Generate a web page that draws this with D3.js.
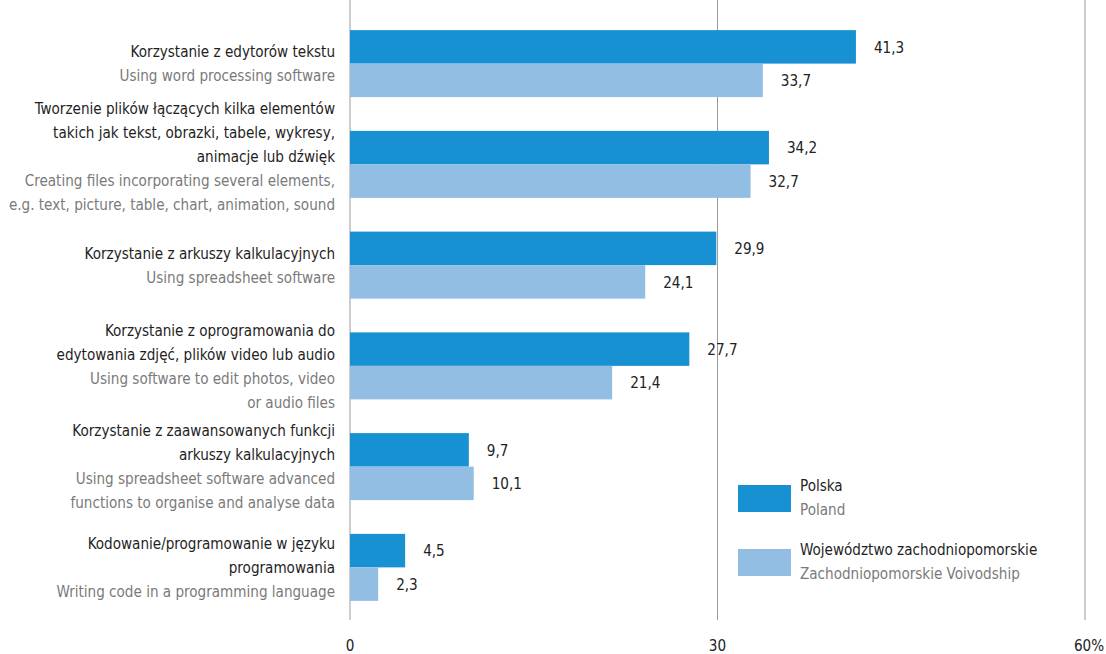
<!DOCTYPE html>
<html>
<head>
<meta charset="utf-8">
<script src="https://cdn.jsdelivr.net/npm/d3@7"></script>
<style>
  body { margin: 0; background: #fff; }
  svg text { font-family: "Liberation Sans Narrow", "DejaVu Sans Condensed", "Roboto", sans-serif; }
</style>
</head>
<body>
<script>
// values in %
var polska = [41.3, 34.2, 29.9, 27.7, 9.7, 4.5];
var zachodniopomorskie = [33.7, 32.7, 24.1, 21.4, 10.1, 2.3];

var labelsPl = [
  ["Korzystanie z edytorów tekstu"],
  ["Tworzenie plików łączących kilka elementów", "takich jak tekst, obrazki, tabele, wykresy,", "animacje lub dźwięk"],
  ["Korzystanie z arkuszy  kalkulacyjnych"],
  ["Korzystanie z oprogramowania do", "edytowania  zdjęć, plików video lub audio"],
  ["Korzystanie z zaawansowanych funkcji", "arkuszy kalkulacyjnych"],
  ["Kodowanie/programowanie w języku", "programowania"]
];
var labelsEn = [
  ["Using word processing software"],
  ["Creating files incorporating several elements,", "e.g. text, picture, table, chart, animation, sound"],
  ["Using spreadsheet software"],
  ["Using software to edit photos, video", "or audio files"],
  ["Using spreadsheet software advanced", "functions to organise and analyse data"],
  ["Writing code in a programming language"]
];
var seriesPl = ["Polska", "Województwo zachodniopomorskie"];
var seriesEn = ["Poland", "Zachodniopomorskie Voivodship"];
var xTicks = [0, 30, 60];

var W = 1106, H = 654;
var colors = ["#1791d2", "#93bee4"];
var lineH = 24;
var fs = 16.5, sx = 0.915;  // condensed look

var svg = d3.select("body").append("svg")
  .attr("width", W)
  .attr("height", H);

var x = d3.scaleLinear().domain([0, 60]).range([350, 1085]);

var y = d3.scaleBand()
  .domain(d3.range(polska.length))
  .range([13, 618])
  .paddingInner(0.335)
  .paddingOuter(0.17);

var sub = d3.scaleBand()
  .domain([0, 1])
  .range([0, y.bandwidth()]);

// vertical grid lines
svg.append("g")
  .selectAll("line")
  .data(xTicks)
  .enter()
  .append("line")
  .attr("x1", function(d){ return x(d); })
  .attr("x2", function(d){ return x(d); })
  .attr("y1", 0)
  .attr("y2", 620)
  .attr("stroke", "#9a9a9a")
  .attr("stroke-width", 1);

// tick labels
svg.append("g")
  .selectAll("text")
  .data(xTicks)
  .enter()
  .append("text")
  .attr("transform", function(d, i){
    var dx = i == xTicks.length - 1 ? 4 : 0;
    return "translate(" + (x(d) + dx) + ",651) scale(" + sx + ",1)";
  })
  .attr("text-anchor", "middle")
  .attr("font-size", fs)
  .attr("fill", "#222")
  .text(function(d, i){ return i == xTicks.length - 1 ? d + "%" : d; });

var series = [polska, zachodniopomorskie];

series.forEach(function(vals, s){
  var g = svg.append("g");
  g.selectAll("rect")
    .data(vals)
    .enter()
    .append("rect")
    .attr("x", x(0))
    .attr("y", function(d, i){ return y(i) + sub(s); })
    .attr("width", function(d){ return x(d) - x(0); })
    .attr("height", sub.bandwidth())
    .attr("fill", colors[s]);

  g.selectAll("text")
    .data(vals)
    .enter()
    .append("text")
    .attr("transform", function(d, i){
      return "translate(" + (x(d) + 18) + "," + (y(i) + sub(s) + sub.bandwidth() / 2) + ") scale(" + sx + ",1)";
    })
    .attr("dy", "0.35em")
    .attr("font-size", fs)
    .attr("fill", "#222")
    .text(function(d){ return String(d).replace(".", ","); });
});

// category labels
labelsPl.forEach(function(pl, i){
  var lines = pl.map(function(t){ return {t: t, c: "#1e1e1e"}; })
    .concat(labelsEn[i].map(function(t){ return {t: t, c: "#7a7a7a"}; }));
  var cy = y(i) + y.bandwidth() / 2;
  var top = cy - (lines.length - 1) * lineH / 2;
  if (lines.length > 4) top -= 8;
  svg.append("g")
    .attr("transform", "translate(335,0) scale(" + sx + ",1)")
    .selectAll("text")
    .data(lines)
    .enter()
    .append("text")
    .attr("x", 0)
    .attr("y", function(d, j){ return top + j * lineH; })
    .attr("dy", "0.35em")
    .attr("text-anchor", "end")
    .attr("font-size", fs)
    .attr("fill", function(d){ return d.c; })
    .text(function(d){ return d.t; });
});

// legend
var legend = svg.append("g").attr("transform", "translate(738,485)");
seriesPl.forEach(function(name, s){
  var lg = legend.append("g").attr("transform", "translate(0," + (s * 64) + ")");
  lg.append("rect")
    .attr("width", 53)
    .attr("height", 27)
    .attr("fill", colors[s]);
  var tg = lg.append("g").attr("transform", "translate(62,0) scale(" + sx + ",1)");
  tg.append("text")
    .attr("y", 0)
    .attr("dy", "0.35em")
    .attr("font-size", fs)
    .attr("fill", "#1e1e1e")
    .text(name);
  tg.append("text")
    .attr("y", 24)
    .attr("dy", "0.35em")
    .attr("font-size", fs)
    .attr("fill", "#7a7a7a")
    .text(seriesEn[s]);
});
</script>
</body>
</html>
